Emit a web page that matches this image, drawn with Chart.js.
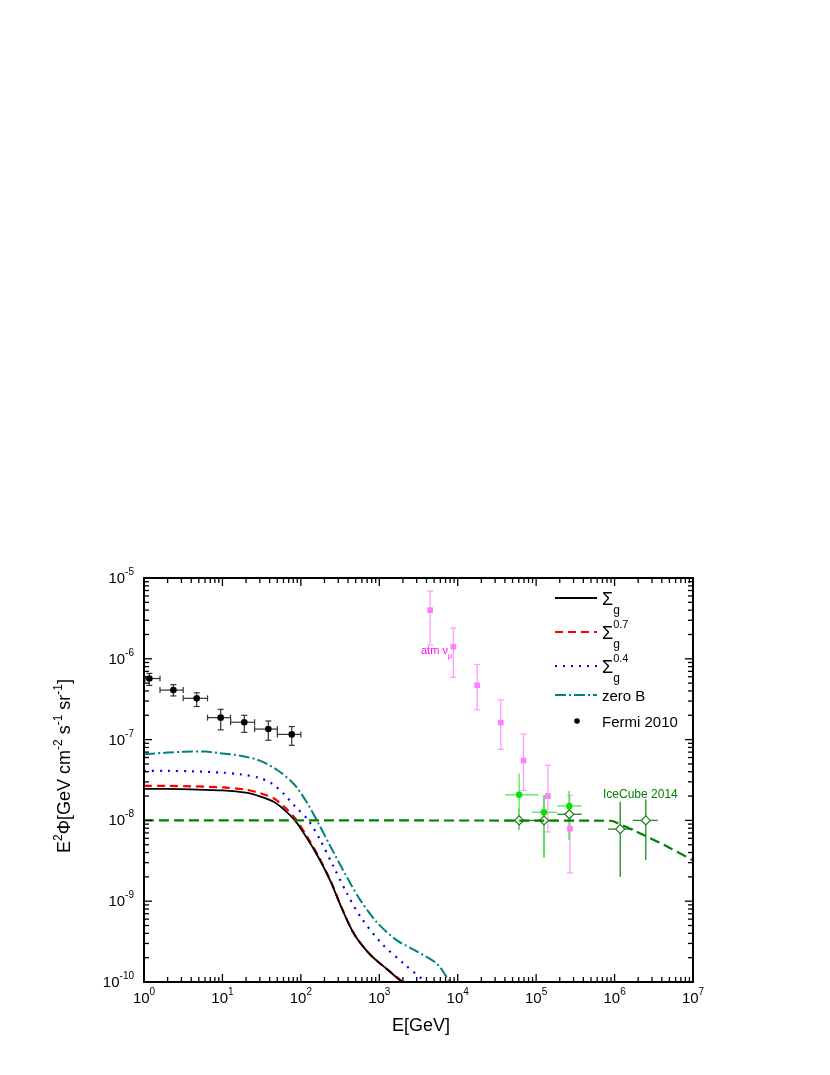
<!DOCTYPE html>
<html lang="en">
<head>
<meta charset="UTF-8" />
<title>E2 Phi vs E</title>
<style>
  body { margin: 0; background: #fff; }
  #wrap { width: 830px; height: 1075px; position: relative; }
</style>
</head>
<body>
<div id="wrap"><canvas id="fluxChart"></canvas></div>

<script src="https://cdn.jsdelivr.net/npm/chart.js@4/dist/chart.umd.min.js"></script>
<script>
  // ---- model curves (E in GeV, E^2 Phi) ----
  const sigE      = [1, 2, 4, 10, 20, 30, 45, 60, 84, 120, 170, 240, 330, 480, 760, 1245, 1940];
  const sigFlux   = [2.45e-8, 2.45e-8, 2.42e-8, 2.35e-8, 2.2e-8, 1.98e-8, 1.7e-8, 1.38e-8, 1.0e-8, 6.0e-9, 3.4e-9, 1.75e-9, 8.3e-10, 3.9e-10, 2.2e-10, 1.45e-10, 1.0e-10];
  const sig07E    = [1, 2, 4, 10, 20, 30, 45, 60, 84, 120, 170, 240, 330, 480, 760, 1245, 2000];
  const sig07Flux = [2.67e-8, 2.67e-8, 2.64e-8, 2.56e-8, 2.4e-8, 2.18e-8, 1.88e-8, 1.5e-8, 1.07e-8, 6.3e-9, 3.5e-9, 1.78e-9, 8.4e-10, 3.9e-10, 2.2e-10, 1.45e-10, 1.0e-10];
  const sig04E    = [1, 2, 4, 10, 17, 30, 43, 60, 85, 125, 176, 260, 385, 570, 1070, 2040, 3900];
  const sig04Flux = [4.1e-8, 4.1e-8, 4.05e-8, 3.9e-8, 3.72e-8, 3.35e-8, 2.85e-8, 2.15e-8, 1.48e-8, 1.0e-8, 5.75e-9, 2.7e-9, 1.26e-9, 6.5e-10, 3.0e-10, 1.7e-10, 1.0e-10];
  const zeroBE    = [1, 2, 3.2, 6, 9.3, 17, 30, 50, 82, 120, 160, 235, 385, 570, 930, 1660, 3000, 5370, 7250, 7800];
  const zeroBFlux = [6.6e-8, 6.9e-8, 7.05e-8, 7.1e-8, 6.8e-8, 6.3e-8, 5.5e-8, 4.2e-8, 2.8e-8, 1.65e-8, 1.0e-8, 4.9e-9, 2.0e-9, 1.04e-9, 5.5e-10, 3.3e-10, 2.4e-10, 1.7e-10, 1.15e-10, 1.0e-10];
  const icModelE    = [1, 8.9e5, 1e6, 2e6, 5e6, 1e7];
  const icModelFlux = [1e-8, 9.9e-9, 9.6e-9, 7.1e-9, 4.6e-9, 3.2e-9];

  // ---- Fermi 2010 ----
  const fermiE    = [1.17, 2.37, 4.7, 9.5, 19, 38.5, 76.5];
  const fermiFlux = [5.7e-7, 4.1e-7, 3.24e-7, 1.87e-7, 1.64e-7, 1.35e-7, 1.16e-7];
  const fermiElo  = [1.03, 1.6, 3.16, 6.46, 12.7, 25.7, 50.1];
  const fermiEhi  = [1.6, 3.16, 6.46, 12.7, 25.7, 50.1, 100];
  const fermiFlo  = [4.68e-7, 3.47e-7, 2.57e-7, 1.32e-7, 1.23e-7, 9.8e-8, 8.5e-8];
  const fermiFhi  = [6.6e-7, 4.79e-7, 3.8e-7, 2.37e-7, 2.0e-7, 1.7e-7, 1.45e-7];

  // ---- atmospheric neutrinos ----
  const atmE    = [4450, 8800, 17700, 35400, 69000, 141000, 270000];
  const atmFlux = [4.0e-6, 1.41e-6, 4.7e-7, 1.62e-7, 5.5e-8, 2.0e-8, 7.9e-9];
  const atmFlo  = [1.48e-6, 5.9e-7, 2.34e-7, 7.6e-8, 2.34e-8, 7.2e-9, 2.24e-9];
  const atmFhi  = [6.9e-6, 2.4e-6, 8.5e-7, 3.1e-7, 1.17e-7, 4.8e-8, 2.04e-8];

  // ---- IceCube 2014, filled points ----
  const icE    = [60700, 126000, 265000];
  const icFlux = [2.08e-8, 1.26e-8, 1.51e-8];
  const icElo  = [40300, 88100, 186000];
  const icEhi  = [107000, 184000, 380000];
  const icFlo  = [7.6e-9, 3.5e-9, 5.8e-9];
  const icFhi  = [3.8e-8, 2.04e-8, 2.29e-8];

  // ---- IceCube 2014, open points ----
  const icoE    = [60700, 126000, 265000, 1.18e6, 2.5e6];
  const icoFlux = [1.0e-8, 1.0e-8, 1.19e-8, 7.8e-9, 1.0e-8];
  const icoElo  = [40300, 89000, 186000, 822000, 1.71e6];
  const icoEhi  = [89000, 186000, 380000, 1.74e6, 3.55e6];
  const icoFlo  = [7.6e-9, 3.5e-9, 5.8e-9, 2.0e-9, 3.24e-9];
  const icoFhi  = [1.4e-8, 2.04e-8, 2.3e-8, 1.7e-8, 1.82e-8];

  const xDecades = [0, 1, 2, 3, 4, 5, 6, 7];
  const yDecades = [-10, -9, -8, -7, -6, -5];

  const FONT = '"Liberation Sans", Arial, sans-serif';
  const pts = (xs, ys) => xs.map((x, i) => ({ x, y: ys[i] }));

  // draw text pieces in a row: [text, size, dy, advance?]
  function richText(ctx, x, y, parts, align) {
    let w = 0;
    parts.forEach(p => {
      ctx.font = p[1] + 'px ' + FONT;
      if (p[3] !== false) w += ctx.measureText(p[0]).width;
    });
    let cx = align === 'right' ? x - w : align === 'center' ? x - w / 2 : x;
    parts.forEach(p => {
      ctx.font = p[1] + 'px ' + FONT;
      ctx.fillText(p[0], cx, y + (p[2] || 0));
      if (p[3] !== false) cx += ctx.measureText(p[0]).width;
    });
  }

  function seg(ctx, x1, y1, x2, y2) {
    ctx.beginPath();
    ctx.moveTo(x1, y1);
    ctx.lineTo(x2, y2);
    ctx.stroke();
  }

  const decor = {
    id: 'decor',
    beforeDatasetsDraw(chart) {
      const ctx = chart.ctx, sx = chart.scales.x, sy = chart.scales.y;
      const area = chart.chartArea;
      ctx.save();
      ctx.beginPath();
      ctx.rect(area.left, area.top, area.right - area.left, area.bottom - area.top);
      ctx.clip();
      function bars(E, F, Elo, Ehi, Flo, Fhi, color, cap, lw) {
        ctx.strokeStyle = color;
        ctx.lineWidth = lw;
        E.forEach((e, i) => {
          const px = sx.getPixelForValue(e), py = sy.getPixelForValue(F[i]);
          if (Elo) {
            const a = sx.getPixelForValue(Elo[i]), b = sx.getPixelForValue(Ehi[i]);
            seg(ctx, a, py, b, py);
            if (cap) { seg(ctx, a, py - cap, a, py + cap); seg(ctx, b, py - cap, b, py + cap); }
          }
          const c = sy.getPixelForValue(Fhi[i]), d = sy.getPixelForValue(Flo[i]);
          seg(ctx, px, c, px, d);
          if (cap) { seg(ctx, px - cap, c, px + cap, c); seg(ctx, px - cap, d, px + cap, d); }
        });
      }
      bars(fermiE, fermiFlux, fermiElo, fermiEhi, fermiFlo, fermiFhi, '#333', 3, 1.2);
      bars(atmE, atmFlux, null, null, atmFlo, atmFhi, '#ff9cff', 3, 1.3);
      bars(icoE, icoFlux, icoElo, icoEhi, icoFlo, icoFhi, '#1d8a1d', 0, 1.3);
      bars(icE, icFlux, icElo, icEhi, icFlo, icFhi, '#5ef05e', 0, 1.5);
      ctx.restore();
    },
    afterDraw(chart) {
      const ctx = chart.ctx, sx = chart.scales.x, sy = chart.scales.y;
      const { left, right, top, bottom } = chart.chartArea;
      ctx.save();
      // frame
      ctx.strokeStyle = '#000';
      ctx.lineWidth = 2;
      ctx.strokeRect(left, top, right - left, bottom - top);
      // ticks on all four sides
      ctx.lineWidth = 1.3;
      xDecades.forEach(d => {
        for (let m = 1; m <= 9; m++) {
          if (d === 7 && m > 1) break;
          const px = sx.getPixelForValue(m * Math.pow(10, d));
          const len = m === 1 ? 8 : 5;
          seg(ctx, px, bottom, px, bottom - len);
          seg(ctx, px, top, px, top + len);
        }
      });
      yDecades.forEach(d => {
        for (let m = 1; m <= 9; m++) {
          if (d === -5 && m > 1) break;
          const py = sy.getPixelForValue(m * Math.pow(10, d));
          const len = m === 1 ? 8 : 5;
          seg(ctx, left, py, left + len, py);
          seg(ctx, right, py, right - len, py);
        }
      });
      // tick labels
      ctx.fillStyle = '#000';
      ctx.textBaseline = 'alphabetic';
      xDecades.forEach(d => {
        const px = sx.getPixelForValue(Math.pow(10, d));
        richText(ctx, px, bottom + 21, [['10', 15, 0], [String(d), 10, -8]], 'center');
      });
      yDecades.forEach(d => {
        const py = sy.getPixelForValue(Math.pow(10, d));
        richText(ctx, left - 10, py + 5, [['10', 15, 0], [String(d), 10, -8]], 'right');
      });
      // axis titles
      richText(ctx, 421, 1031, [['E[GeV]', 18, 0]], 'center');
      ctx.save();
      ctx.translate(70, 766);
      ctx.rotate(-Math.PI / 2);
      richText(ctx, 0, 0, [
        ['E', 18, 0], ['2', 12, -8], ['\u03A6[GeV cm', 18, 0], ['-2', 12, -8],
        [' s', 18, 0], ['-1', 12, -8], [' sr', 18, 0], ['-1', 12, -8], [']', 18, 0]
      ], 'center');
      ctx.restore();

      // legend
      const lx0 = 555, lx1 = 597, tx = 602;
      const rows = [598, 632, 666, 695, 721];
      const styles = [
        { c: '#000', dash: [], w: 1.8 },
        { c: '#ff0000', dash: [8, 5], w: 2 },
        { c: '#0000ff', dash: [2, 6], w: 2 },
        { c: '#008080', dash: [11, 3, 2, 3], w: 2 }
      ];
      styles.forEach((s, i) => {
        ctx.strokeStyle = s.c;
        ctx.lineWidth = s.w;
        ctx.setLineDash(s.dash);
        seg(ctx, lx0, rows[i], lx1, rows[i]);
      });
      ctx.setLineDash([]);
      ctx.fillStyle = '#000';
      richText(ctx, tx, rows[0] + 7, [['\u03A3', 18, 0], ['g', 12, 9]], 'left');
      richText(ctx, tx, rows[1] + 7, [['\u03A3', 18, 0], ['g', 12, 9, false], ['0.7', 11, -11]], 'left');
      richText(ctx, tx, rows[2] + 7, [['\u03A3', 18, 0], ['g', 12, 9, false], ['0.4', 11, -11]], 'left');
      richText(ctx, tx, rows[3] + 6, [['zero B', 15, 0]], 'left');
      ctx.beginPath();
      ctx.arc(577, rows[4], 2.8, 0, Math.PI * 2);
      ctx.fill();
      richText(ctx, tx, rows[4] + 6, [['Fermi 2010', 15, 0]], 'left');

      // annotations
      ctx.fillStyle = '#ff00ff';
      richText(ctx, 421, 654, [['atm \u03BD', 11, 0], ['\u03BC', 7, 4]], 'left');
      ctx.fillStyle = '#008000';
      richText(ctx, 603, 798, [['IceCube 2014', 12, 0]], 'left');
      ctx.restore();
    }
  };

  const curve = { showLine: true, pointRadius: 0, tension: 0.3 };
  const ctx = document.getElementById('fluxChart').getContext('2d');
  new Chart(ctx, {
    type: 'scatter',
    data: {
      datasets: [
        { ...curve, label: 'IceCube model', data: pts(icModelE, icModelFlux), borderColor: '#008000', borderWidth: 2.2, borderDash: [10, 5] },
        { ...curve, label: 'zero B', data: pts(zeroBE, zeroBFlux), borderColor: '#008080', borderWidth: 2, borderDash: [11, 3, 2, 3] },
        { ...curve, label: 'Sigma_g^0.4', data: pts(sig04E, sig04Flux), borderColor: '#0000ff', borderWidth: 2.2, borderDash: [2, 6] },
        { ...curve, label: 'Sigma_g', data: pts(sigE, sigFlux), borderColor: '#000', borderWidth: 1.8 },
        { ...curve, label: 'Sigma_g^0.7', data: pts(sig07E, sig07Flux), borderColor: '#ff0000', borderWidth: 2.2, borderDash: [8, 5] },
        { label: 'Fermi 2010', data: pts(fermiE, fermiFlux), pointStyle: 'circle', pointRadius: 3.3, backgroundColor: '#000', borderColor: '#000', borderWidth: 0 },
        { label: 'atm nu', data: pts(atmE, atmFlux), pointStyle: 'rect', pointRadius: 4, backgroundColor: '#ff80ff', borderColor: '#ff80ff', borderWidth: 0 },
        { label: 'IceCube open', data: pts(icoE, icoFlux), pointStyle: 'rectRot', pointRadius: 4.5, backgroundColor: '#fff', borderColor: '#1d7a1d', borderWidth: 1.2 },
        { label: 'IceCube filled', data: pts(icE, icFlux), pointStyle: 'circle', pointRadius: 3.2, backgroundColor: '#00e600', borderColor: '#00e600', borderWidth: 0 }
      ]
    },
    options: {
      responsive: true,
      maintainAspectRatio: false,
      animation: false,
      layout: { padding: { left: 144, right: 137, top: 578, bottom: 93 } },
      plugins: { legend: { display: false }, tooltip: { enabled: false } },
      scales: {
        x: { type: 'logarithmic', min: 1, max: 1e7, display: false },
        y: { type: 'logarithmic', min: 1e-10, max: 1e-5, display: false }
      }
    },
    plugins: [decor]
  });
</script>
</body>
</html>
